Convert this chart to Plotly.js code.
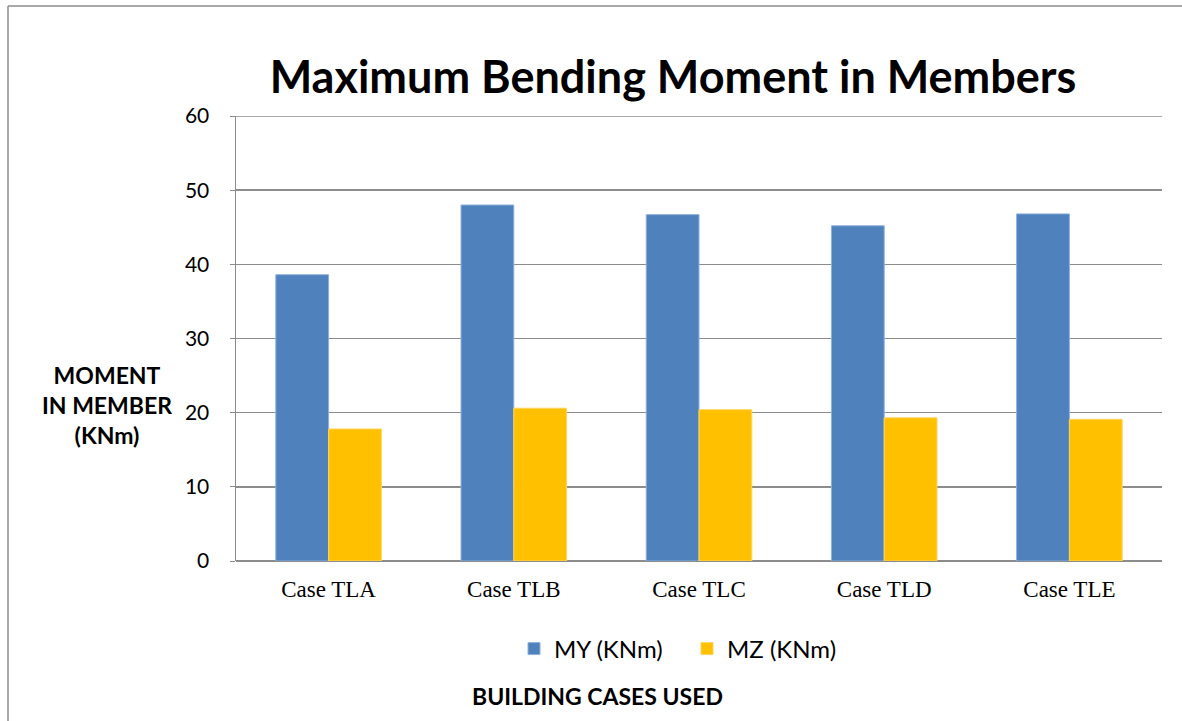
<!DOCTYPE html>
<html><head><meta charset="utf-8">
<script src="https://cdn.plot.ly/plotly-3.0.1.min.js"></script>
<style>html,body{margin:0;padding:0;background:#fff;}#chart{width:1182px;height:721px;}</style>
</head><body><div id="chart"></div>
<script>
const categories = ["Case TLA", "Case TLB", "Case TLC", "Case TLD", "Case TLE"];
const myValues = [38.6, 48.0, 46.7, 45.2, 46.8];
const mzValues = [17.8, 20.6, 20.4, 19.3, 19.1];
const seriesNames = ["MY (KNm)", "MZ (KNm)"];
const yTicks = [0, 10, 20, 30, 40, 50, 60];
const yMax = 60;

const traces = [
  {type:'bar', name:seriesNames[0], x:categories, y:myValues,
   marker:{color:'#4F81BD', line:{color:'#8fb0da', width:1}}},
  {type:'bar', name:seriesNames[1], x:categories, y:mzValues,
   marker:{color:'#FFC000', line:{color:'#ffd45a', width:1}}}
];

const L=236, R=20, T=116, B=160;
const W=1182-L-R, H=721-T-B;
const px = v => (v-L)/W;
const py = v => (721-B-v)/H;
const font = 'Lato, "Open Sans", sans-serif';

const layout = {
  width:1182, height:721,
  margin:{l:L, r:R, t:T, b:B},
  paper_bgcolor:'#fff', plot_bgcolor:'#fff',
  barmode:'group', bargap:0.43, bargroupgap:0,
  showlegend:true,
  title:{text:'<b>Maximum Bending Moment in Members</b>', font:{family:font, size:45, color:'#000'},
    x:px(673), xref:'paper', xanchor:'center', y:1-77/721, yanchor:'middle'},
  xaxis:{type:'category', showgrid:false, showline:false, zeroline:false, ticks:'',
    tickfont:{family:'"Liberation Serif", serif', size:23, color:'#000'}, ticklabelstandoff:12},
  yaxis:{range:[0,yMax], tickvals:yTicks, showgrid:true, gridcolor:'#8c8c8c', gridwidth:1.5,
    zeroline:true, zerolinecolor:'#8c8c8c', zerolinewidth:1.5,
    showline:true, linecolor:'#8c8c8c', linewidth:1.5, ticks:'outside', ticklen:5, tickcolor:'#8c8c8c',
    tickfont:{family:font, size:21, color:'#000'}, ticklabelstandoff:16},
  legend:{orientation:'h', x:px(514), xanchor:'left', y:py(649), yanchor:'middle',
    font:{family:font, size:24, color:'#000'}, itemwidth:30, entrywidth:128, traceorder:'normal'},
  annotations:[
    {text:'<b>MOMENT<br>IN MEMBER<br>(KNm)</b>', xref:'paper', yref:'paper', x:px(107), y:py(405),
     xanchor:'center', yanchor:'middle', showarrow:false, align:'center',
     font:{family:font, size:23, color:'#000'}},
    {text:'<b>BUILDING CASES USED</b>', xref:'paper', yref:'paper', x:px(597), y:py(696),
     xanchor:'center', yanchor:'middle', showarrow:false,
     font:{family:font, size:23, color:'#000'}}
  ],
  shapes:[
    {type:'line', xref:'paper', yref:'y', x0:0, x1:1, y0:yMax, y1:yMax, line:{color:'#8c8c8c', width:1.5}},
    {type:'line', xref:'paper', yref:'paper', x0:px(8), x1:px(8), y0:py(6), y1:py(740), line:{color:'#8c8c8c', width:1.5}},
    {type:'line', xref:'paper', yref:'paper', x0:px(8), x1:px(1200), y0:py(6), y1:py(6), line:{color:'#8c8c8c', width:1.5}}
  ]
};
Plotly.newPlot('chart', traces, layout, {displayModeBar:false, staticPlot:true});
</script></body></html>
